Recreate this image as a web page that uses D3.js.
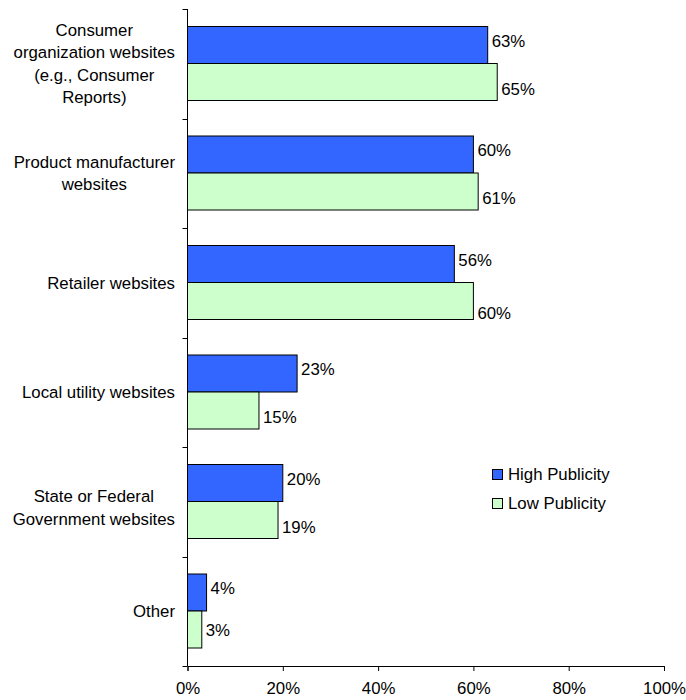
<!DOCTYPE html>
<html>
<head>
<meta charset="utf-8">
<script src="https://cdn.jsdelivr.net/npm/d3@7"></script>
<style>
  html, body { margin: 0; padding: 0; background: #fff; }
  svg { display: block; }
  text { font-family: "Liberation Sans", Arial, sans-serif; fill: #000; }
</style>
</head>
<body>
<svg id="chart" width="686" height="700"></svg>
<script>
// Category labels, one entry per wrapped line
const categoryLines = [
  ["Consumer", "organization websites", "(e.g., Consumer", "Reports)"],
  ["Product manufacturer", "websites"],
  ["Retailer websites"],
  ["Local utility websites"],
  ["State or Federal", "Government websites"],
  ["Other"]
];
const categories = categoryLines.map(l => l.join(" "));
const seriesNames = ["High Publicity", "Low Publicity"];
const highValues = [63, 60, 56, 23, 20, 4];
const lowValues  = [65, 61, 60, 15, 19, 3];
const xTicks = [0, 20, 40, 60, 80, 100];

const colors = { "High Publicity": "#3366ff", "Low Publicity": "#ccffcc" };
const fontSize = 16.8;

const svg = d3.select("#chart");

const x = d3.scaleLinear().domain([0, 100]).range([187.5, 664]);
const y = d3.scaleBand().domain(categories).range([9, 666]);
const ySeries = d3.scaleBand().domain(seriesNames).range([0, y.bandwidth()]).paddingOuter(0.5);

const rows = categories.map((c, i) => ({
  cat: c,
  lines: categoryLines[i],
  values: [
    { series: seriesNames[0], value: highValues[i] },
    { series: seriesNames[1], value: lowValues[i] }
  ]
}));

// vertical offset of each value label relative to its bar centre
const labelShift = { "High Publicity": -3.5, "Low Publicity": 8 };
const labelShiftOverride = { "Retailer websites|Low Publicity": 13, "Other|Low Publicity": 2 };

// bars
const groups = svg.append("g").selectAll("g.row")
  .data(rows).join("g")
  .attr("class", "row")
  .attr("transform", d => `translate(0,${y(d.cat) - 1})`);

groups.selectAll("rect")
  .data(d => d.values.map(v => ({ ...v, cat: d.cat })))
  .join("rect")
  .attr("x", x(0))
  .attr("y", d => Math.round(ySeries(d.series)) + 0.5)
  .attr("width", d => x(d.value) - x(0))
  .attr("height", Math.round(ySeries.bandwidth()))
  .attr("fill", d => colors[d.series])
  .attr("stroke", "#000")
  .attr("stroke-width", 1);

groups.selectAll("text.val")
  .data(d => d.values.map(v => ({ ...v, cat: d.cat })))
  .join("text")
  .attr("class", "val")
  .attr("x", d => x(d.value) + 4)
  .attr("y", d => {
    const key = d.cat + "|" + d.series;
    const shift = key in labelShiftOverride ? labelShiftOverride[key] : labelShift[d.series];
    return ySeries(d.series) + ySeries.bandwidth() / 2 + shift;
  })
  .attr("dy", "0.35em")
  .attr("font-size", fontSize)
  .text(d => d.value + "%");

// y axis: line with ticks at the category boundaries
const yAxis = svg.append("g");
yAxis.append("line")
  .attr("x1", x(0)).attr("x2", x(0))
  .attr("y1", y.range()[0]).attr("y2", y.range()[1])
  .attr("stroke", "#000");
const boundaries = categories.map(c => y(c)).concat([y.range()[1]]);
yAxis.selectAll("line.tick")
  .data(boundaries).join("line")
  .attr("class", "tick")
  .attr("x1", x(0) - 5).attr("x2", x(0))
  .attr("y1", d => Math.round(d) + 0.5).attr("y2", d => Math.round(d) + 0.5)
  .attr("stroke", "#000");

// category labels: lines centred within a right-aligned block
const labelRight = 175;
const lineGap = 22.5;
const blockShift = { "State or Federal Government websites": 6 };
const catLabels = svg.append("g").selectAll("g.cat")
  .data(rows).join("g").attr("class", "cat");
catLabels.each(function(d) {
  const g = d3.select(this);
  const n = d.lines.length;
  const cy = y(d.cat) + y.bandwidth() / 2 + (blockShift[d.cat] || 0);
  const texts = g.selectAll("text").data(d.lines).join("text")
    .attr("font-size", fontSize)
    .attr("text-anchor", "middle")
    .attr("dy", "0.35em")
    .attr("y", (l, i) => cy + (i - (n - 1) / 2) * lineGap)
    .text(l => l);
  let maxW = 0;
  texts.each(function() { maxW = Math.max(maxW, this.getComputedTextLength()); });
  texts.attr("x", labelRight - maxW / 2);
});

// x axis
const xAxis = svg.append("g")
  .attr("transform", `translate(0,${y.range()[1]})`)
  .call(d3.axisBottom(x).tickValues(xTicks).tickFormat(d => d + "%").tickSize(5).tickPadding(11));
xAxis.select(".domain").attr("stroke", "#000");
xAxis.selectAll(".tick line").attr("stroke", "#000");
xAxis.selectAll(".tick text")
  .attr("font-size", fontSize)
  .attr("font-family", "Liberation Sans, Arial, sans-serif")
  .attr("fill", "#000");

// legend
const legend = svg.append("g").attr("transform", "translate(492,469)");
const items = legend.selectAll("g").data(seriesNames).join("g")
  .attr("transform", (d, i) => `translate(0,${i * 29})`);
items.append("rect")
  .attr("x", 0.5).attr("y", 0.5).attr("width", 10).attr("height", 10)
  .attr("fill", d => colors[d]).attr("stroke", "#000");
items.append("text")
  .attr("x", 16).attr("y", 5.5).attr("dy", "0.35em")
  .attr("font-size", fontSize)
  .text(d => d);
</script>
</body>
</html>
